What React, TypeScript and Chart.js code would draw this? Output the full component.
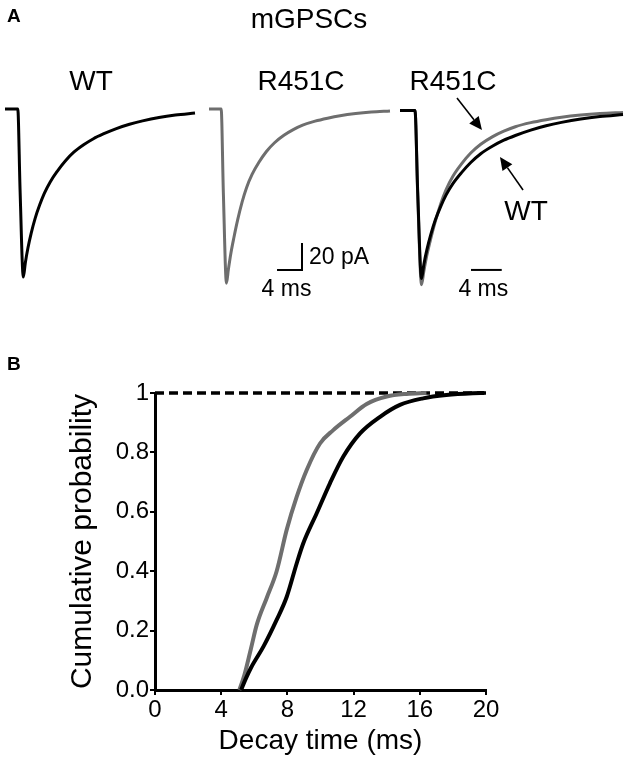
import React, { useEffect, useRef } from "react";
import { Chart, registerables } from "chart.js";

Chart.register(...registerables);

const FONT = '"Liberation Sans", Arial, Helvetica, sans-serif';
const GRAY = "#6e6e6e";
const BLACK = "#000000";

// ---- Panel A: averaged mGPSC traces (time in ms, current in pA)
const traceTimeMs = [0, 1.95, 2.3, 2.8, 3.1, 3.5, 4.0, 4.6, 5.3, 6.0, 6.9, 8.0, 9.2, 10.5, 12.0, 13.5, 15.0, 17.0, 19.0, 21.0, 23.5, 26.0, 29.0];
const wtTracePA = [0, 0, -60, -124.5, -114, -103, -92, -81, -71, -62.5, -54, -46, -38.5, -32, -26.5, -22, -18.5, -14.5, -11.3, -8.8, -6.3, -4.5, -3];
const r451cTracePA = [0, 0, -62, -129, -119, -107, -95, -82, -69, -58.5, -48.5, -39.5, -31.5, -25, -19.5, -15.3, -12, -9, -6.8, -5, -3.4, -2.3, -1.5];

// scale bars
const scaleBarMs = 4;
const scaleBarPA = 20;

// ---- Panel B: cumulative probability of decay time
const wtDecayMs = [5.2, 5.5, 5.8, 6.55, 7.35, 7.96, 8.56, 8.96, 9.77, 10.57, 11.38, 12.39, 13.6, 14.8, 16.2, 17.6, 19.2, 19.9];
const wtCumProb = [0, 0.04, 0.075, 0.146, 0.236, 0.314, 0.426, 0.494, 0.595, 0.696, 0.786, 0.864, 0.92, 0.96, 0.982, 0.993, 0.999, 1.0];
const r451cDecayMs = [5.1, 5.4, 5.8, 6.15, 6.75, 7.35, 7.96, 8.56, 9.16, 9.97, 10.77, 11.78, 12.79, 14.0, 15.2, 16.4];
const r451cCumProb = [0, 0.05, 0.14, 0.22, 0.31, 0.4, 0.54, 0.65, 0.74, 0.83, 0.875, 0.92, 0.963, 0.988, 0.997, 1.0];
const xTicks = [0, 4, 8, 12, 16, 20];
const yTicks = [0, 0.2, 0.4, 0.6, 0.8, 1];
const yTickLabels = ["0.0", "0.2", "0.4", "0.6", "0.8", "1"];
const refLevel = 1;
const refSpanMs = [0, 20.3];

const pts = (xs: number[], ys: number[]) => xs.map((x, i) => ({ x, y: ys[i] }));

function drawText(
  ctx: CanvasRenderingContext2D,
  s: string,
  x: number,
  y: number,
  size: number,
  opts: { bold?: boolean; align?: CanvasTextAlign; baseline?: CanvasTextBaseline } = {}
) {
  ctx.save();
  ctx.font = `${opts.bold ? "bold " : ""}${size}px ${FONT}`;
  ctx.fillStyle = "#000";
  ctx.textAlign = opts.align || "center";
  ctx.textBaseline = opts.baseline || "alphabetic";
  ctx.fillText(s, x, y);
  ctx.restore();
}

function drawArrow(ctx: CanvasRenderingContext2D, x1: number, y1: number, x2: number, y2: number) {
  const ang = Math.atan2(y2 - y1, x2 - x1);
  const hl = 13;
  const hw = 6;
  const bx = x2 - hl * Math.cos(ang);
  const by = y2 - hl * Math.sin(ang);
  ctx.save();
  ctx.strokeStyle = "#000";
  ctx.fillStyle = "#000";
  ctx.lineWidth = 1.6;
  ctx.beginPath();
  ctx.moveTo(x1, y1);
  ctx.lineTo(bx, by);
  ctx.stroke();
  ctx.beginPath();
  ctx.moveTo(x2, y2);
  ctx.lineTo(bx + hw * Math.sin(ang), by - hw * Math.cos(ang));
  ctx.lineTo(bx - hw * Math.sin(ang), by + hw * Math.cos(ang));
  ctx.closePath();
  ctx.fill();
  ctx.restore();
}

function drawScaleBar(chart: any, tStart: number, amp: number, vertical: boolean, msDx: number) {
  const ctx = chart.ctx as CanvasRenderingContext2D;
  const xs = chart.scales.x;
  const ys = chart.scales.y;
  const x1 = xs.getPixelForValue(tStart);
  const x2 = xs.getPixelForValue(tStart + scaleBarMs);
  const y1 = ys.getPixelForValue(amp);
  const y0 = ys.getPixelForValue(amp + scaleBarPA);
  ctx.save();
  ctx.strokeStyle = "#000";
  ctx.lineWidth = 2;
  ctx.beginPath();
  ctx.moveTo(x1, y1);
  ctx.lineTo(x2, y1);
  if (vertical) ctx.lineTo(x2, y0);
  ctx.stroke();
  ctx.restore();
  if (vertical) drawText(ctx, `${scaleBarPA} pA`, x2 + 7, (y0 + y1) / 2 + 1, 23, { align: "left", baseline: "middle" });
  drawText(ctx, `${scaleBarMs} ms`, (x1 + x2) / 2 + msDx, y1 + 26, 23);
}

const traceDataset = (ys: number[], color: string) => ({
  data: pts(traceTimeMs, ys),
  borderColor: color,
  borderWidth: 3,
  pointRadius: 0,
  fill: false,
  cubicInterpolationMode: "monotone",
  clip: false,
});

function traceConfig(datasets: any[], padding: any, annotate: (chart: any) => void): any {
  return {
    type: "line",
    data: { datasets },
    options: {
      animation: false,
      responsive: false,
      events: [],
      layout: { padding },
      plugins: { legend: { display: false }, tooltip: { enabled: false } },
      scales: {
        x: { type: "linear", min: 0, max: 29, display: false },
        y: { type: "linear", min: -135, max: 5, display: false },
      },
    },
    plugins: [{ id: "annot", afterDraw: annotate }],
  };
}

const makePanel1 = () =>
  traceConfig([traceDataset(wtTracePA, BLACK)], { left: 5, right: 10, top: 102.25, bottom: 18.75 }, (chart) => {
    const ctx = chart.ctx;
    drawText(ctx, "A", 7, 22, 19, { bold: true, align: "left" });
    drawText(ctx, "WT", 91, 90, 28);
  });

const makePanel2 = () =>
  traceConfig([traceDataset(r451cTracePA, GRAY)], { left: 4, right: 15, top: 102.25, bottom: 18.75 }, (chart) => {
    const ctx = chart.ctx;
    drawText(ctx, "mGPSCs", 104, 28, 28);
    drawText(ctx, "R451C", 96, 90, 28);
    drawScaleBar(chart, 10.9, -119.3, true, -3);
  });

const makePanel3 = () =>
  traceConfig(
    [traceDataset(wtTracePA, BLACK), traceDataset(r451cTracePA, GRAY)],
    { left: 5, right: 7, top: 103.75, bottom: 17.25 },
    (chart) => {
      const ctx = chart.ctx;
      const xs = chart.scales.x;
      const ys = chart.scales.y;
      drawText(ctx, "R451C", 58, 90, 28);
      drawText(ctx, "WT", 131, 220, 28);
      drawArrow(ctx, xs.getPixelForValue(7.41), ys.getPixelForValue(9.3), xs.getPixelForValue(10.66), ys.getPixelForValue(-14.4));
      drawArrow(ctx, xs.getPixelForValue(16.0), ys.getPixelForValue(-58.9), xs.getPixelForValue(13.0), ys.getPixelForValue(-34.4));
      drawScaleBar(chart, 9.23, -118.1, false, -3);
    }
  );

const tickFont = { family: FONT, size: 24 };

const makePanelB = (): any => ({
  type: "line",
  data: {
    datasets: [
      {
        label: "WT",
        data: pts(wtDecayMs, wtCumProb),
        borderColor: BLACK,
        borderWidth: 4,
        pointRadius: 0,
        fill: false,
        cubicInterpolationMode: "monotone",
        clip: false,
      },
      {
        label: "R451C",
        data: pts(r451cDecayMs, r451cCumProb),
        borderColor: GRAY,
        borderWidth: 4,
        pointRadius: 0,
        fill: false,
        cubicInterpolationMode: "monotone",
        clip: false,
      },
      {
        label: "ref",
        data: refSpanMs.map((x) => ({ x, y: refLevel })),
        borderColor: BLACK,
        borderWidth: 3.5,
        borderDash: [9, 5],
        pointRadius: 0,
        fill: false,
        clip: false,
      },
    ],
  },
  options: {
    animation: false,
    responsive: false,
    events: [],
    layout: { padding: { left: 60, right: 144, top: 63, bottom: 5 } },
    plugins: { legend: { display: false }, tooltip: { enabled: false } },
    scales: {
      x: {
        type: "linear",
        min: 0,
        max: 20,
        afterBuildTicks: (s: any) => {
          s.ticks = xTicks.map((value) => ({ value }));
        },
        ticks: { color: "#000", font: tickFont, padding: 1, maxRotation: 0, autoSkip: false },
        grid: { drawOnChartArea: false, drawTicks: true, tickLength: 5, color: "#000", lineWidth: 2 },
        border: { display: true, color: "#000", width: 3 },
        title: { display: true, text: "Decay time (ms)", color: "#000", font: { family: FONT, size: 28 }, padding: 0 },
        afterFit: (s: any) => {
          s.height = 68;
        },
      },
      y: {
        type: "linear",
        min: 0,
        max: 1,
        afterBuildTicks: (s: any) => {
          s.ticks = yTicks.map((value) => ({ value }));
        },
        ticks: {
          color: "#000",
          font: tickFont,
          padding: 1,
          autoSkip: false,
          callback: (_v: any, i: number) => yTickLabels[i],
        },
        grid: { drawOnChartArea: false, drawTicks: true, tickLength: 5, color: "#000", lineWidth: 2 },
        border: { display: true, color: "#000", width: 3 },
        title: {
          display: true,
          text: "Cumulative probability",
          color: "#000",
          font: { family: FONT, size: 30 },
          padding: { top: 5, bottom: 0 },
        },
        afterFit: (s: any) => {
          s.width = 95;
        },
      },
    },
  },
  plugins: [
    {
      id: "panelLabel",
      afterDraw: (chart: any) => drawText(chart.ctx, "B", 7, 40, 19, { bold: true, align: "left" }),
    },
  ],
});

function ChartCanvas({ left, top, width, height, make }: { left: number; top: number; width: number; height: number; make: () => any }) {
  const ref = useRef<HTMLCanvasElement | null>(null);
  useEffect(() => {
    if (!ref.current) return;
    const chart = new Chart(ref.current, make());
    return () => chart.destroy();
  }, [make]);
  return (
    <canvas
      ref={ref}
      width={width}
      height={height}
      style={{ position: "absolute", left, top, width, height, display: "block" }}
    />
  );
}

export default function App() {
  return (
    <div style={{ position: "absolute", left: 0, top: 0, width: 630, height: 763, background: "#fff", overflow: "hidden" }}>
      <ChartCanvas left={0} top={0} width={205} height={310} make={makePanel1} />
      <ChartCanvas left={205} top={0} width={200} height={310} make={makePanel2} />
      <ChartCanvas left={395} top={0} width={235} height={310} make={makePanel3} />
      <ChartCanvas left={0} top={330} width={630} height={433} make={makePanelB} />
    </div>
  );
}
